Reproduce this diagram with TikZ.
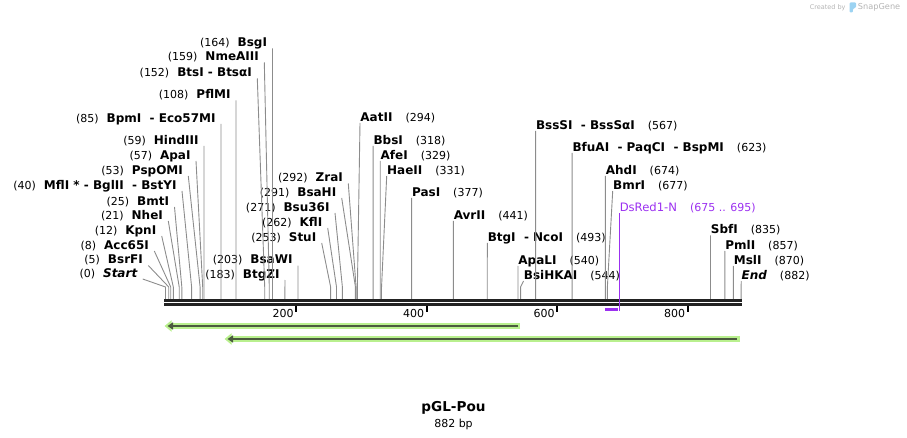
\documentclass[tikz,border=0pt]{standalone}
\usepackage{fontspec}
\setmainfont{DejaVu Sans}[ItalicFont={DejaVu Sans Oblique},BoldItalicFont={DejaVu Sans Bold Oblique}]
\usetikzlibrary{positioning}
\usetikzlibrary{arrows.meta}

\definecolor{cutgray}{HTML}{8C8C8C}
\definecolor{primerpurple}{HTML}{9B30F0}
\definecolor{glowgreen}{HTML}{B9F08E}
\definecolor{coregreen}{HTML}{4B5A3E}
\definecolor{backbone}{HTML}{222222}
\definecolor{markgray}{HTML}{B4B4B4}
\definecolor{logoblue}{HTML}{9CD3F2}

\newcommand{\lft}[2]{(#1)\hspace{8pt}{\fontsize{12}{14}\selectfont\bfseries #2}}
\newcommand{\rgt}[2]{{\fontsize{12}{14}\selectfont\bfseries #1}\hspace{13pt}(#2)}

\begin{document}
\begin{tikzpicture}[x=1pt,y=-1pt,line width=0.9pt,
  cutl/.style={anchor=south east,inner xsep=5pt,inner ysep=0.5pt,text height=8.5pt,text depth=1pt,font=\fontsize{11}{13}\selectfont},
  cutr/.style={cutl,anchor=south west,inner xsep=0pt},
  cut/.style={draw=cutgray,line width=0.9pt},
  backbone/.style={draw=backbone,line width=2.6pt},
  tickmark/.style={draw=black,line width=2pt},
  ticklabel/.style={anchor=east,inner sep=0pt,font=\fontsize{11}{13}\selectfont},
  glow/.style={draw=glowgreen,line width=6pt,-{Triangle[width=11pt,length=7pt]}},
  core/.style={draw=coregreen,line width=2.6pt,-{Triangle[width=7pt,length=5.5pt]}}]
  \useasboundingbox (0,0) rectangle (907,438);

  % watermark
  \node (made) [anchor=east,inner sep=0pt,text=markgray,font=\fontsize{6.5}{8}\selectfont] at (846,7.5) {Created by};
  \fill[logoblue,rounded corners=1pt] (849.5,2.5) -- (856,2.5) -- (856,7.5) -- (852.8,9) -- (852.8,12.5) -- (849.5,12.5) -- cycle;
  \node (brand) [anchor=west,inner sep=0pt,text=markgray,font=\fontsize{8.2}{10}\selectfont] at (857.5,7.5) {SnapGene};

  % sites on the sequence
  \foreach \n/\b in {Start/0,BsrFI/5,Acc65I/8,KpnI/12,NheI/21,BmtI/25,MflI/40,PspOMI/53,ApaI/57,HindIII/59,
      BpmI/85,PflMI/108,BtsI/152,NmeAIII/159,BsgI/164,BtgZI/183,BsaWI/203,StuI/253,KflI/262,Bsu36I/271,
      BsaHI/291,ZraI/292,AatII/294,BbsI/318,AfeI/329,HaeII/331,PasI/377,AvrII/441,BtgI/493,ApaLI/540,
      BsiHKAI/544,BssSI/567,BfuAI/623,AhdI/674,BmrI/677,SbfI/835,PmlI/857,MslI/870,End/882}
    \coordinate (s\n) at ({165.5+0.6527*\b},299);
  \coordinate (knee) at (0,287);

  % labels left of their cut
  \node (lBsgI)    [cutl] at (272.5,48.5) {\lft{164}{BsgI}};
  \node (lNmeAIII) [cutl] at (264.3,62.5) {\lft{159}{NmeAIII}};
  \node (lBtsI)    [cutl] at (257.3,78.5) {\lft{152}{BtsI - BtsαI}};
  \node (lPflMI)   [cutl] at (236,100.5)  {\lft{108}{PflMI}};
  \node (lBpmI)    [cutl] at (221,124)    {\lft{85}{BpmI~ - Eco57MI}};
  \node (lHindIII) [cutl] at (204,146)    {\lft{59}{HindIII}};
  \node (lApaI)    [cutl] at (196,161)    {\lft{57}{ApaI}};
  \node (lPspOMI)  [cutl] at (188.3,176)  {\lft{53}{PspOMI}};
  \node (lMflI)    [cutl] at (182,191)    {\lft{40}{MflI * - BglII~ - BstYI}};
  \node (lBmtI)    [cutl] at (174.5,207)  {\lft{25}{BmtI}};
  \node (lNheI)    [cutl] at (168.3,221)  {\lft{21}{NheI}};
  \node (lKpnI)    [cutl] at (161.7,236)  {\lft{12}{KpnI}};
  \node (lAcc65I)  [cutl] at (154.3,251)  {\lft{8}{Acc65I}};
  \node (lBsrFI)   [cutl] at (148.3,265.5) {\lft{5}{BsrFI}};
  \node (lStart)   [cutl] at (142.7,279)  {\lft{0}{\itshape Start}};
  \node (lBtgZI)   [cutl] at (285,280)    {\lft{183}{BtgZI}};
  \node (lBsaWI)   [cutl] at (298,265.7)  {\lft{203}{BsaWI}};
  \node (lStuI)    [cutl] at (321.7,243)  {\lft{253}{StuI}};
  \node (lKflI)    [cutl] at (327.7,228)  {\lft{262}{KflI}};
  \node (lBsu36I)  [cutl] at (335,213)    {\lft{271}{Bsu36I}};
  \node (lBsaHI)   [cutl] at (341.7,198)  {\lft{291}{BsaHI}};
  \node (lZraI)    [cutl] at (348.3,183.5) {\lft{292}{ZraI}};

  % labels right of their cut
  \node (lAatII)   [cutr] at (360,123)    {\rgt{AatII}{294}};
  \node (lBbsI)    [cutr] at (373.1,146)  {\rgt{BbsI}{318}};
  \node (lAfeI)    [cutr] at (380.2,161)  {\rgt{AfeI}{329}};
  \node (lHaeII)   [cutr] at (386.7,176)  {\rgt{HaeII}{331}};
  \node (lPasI)    [cutr] at (411.6,198)  {\rgt{PasI}{377}};
  \node (lAvrII)   [cutr] at (453.3,221)  {\rgt{AvrII}{441}};
  \node (lBtgI)    [cutr] at (487.3,243)  {\rgt{BtgI~ - NcoI}{493}};
  \node (lApaLI)   [cutr] at (518,266)    {\rgt{ApaLI}{540}};
  \node (lBsiHKAI) [cutr] at (523.5,281)  {\rgt{BsiHKAI}{544}};
  \node (lBssSI)   [cutr] at (535.6,131)  {\rgt{BssSI~ - BssSαI}{567}};
  \node (lBfuAI)   [cutr] at (572.1,153)  {\rgt{BfuAI~ - PaqCI~ - BspMI}{623}};
  \node (lAhdI)    [cutr] at (605.4,176)  {\rgt{AhdI}{674}};
  \node (lBmrI)    [cutr] at (612.7,191)  {\rgt{BmrI}{677}};
  \node (lSbfI)    [cutr] at (710.5,235.5) {\rgt{SbfI}{835}};
  \node (lPmlI)    [cutr] at (724.9,251)  {\rgt{PmlI}{857}};
  \node (lMslI)    [cutr] at (733.4,266)  {\rgt{MslI}{870}};
  \node (lEnd)     [cutr] at (741.2,281)  {\rgt{\itshape End}{882}};

  \foreach \n in {BsgI,NmeAIII,BtsI,PflMI,BpmI,HindIII,ApaI,PspOMI,MflI,BmtI,NheI,KpnI,Acc65I,BsrFI,Start,
      BtgZI,BsaWI,StuI,KflI,Bsu36I,BsaHI,ZraI}
    \draw[cut] (l\n.south east) -- (s\n |- knee) -- (s\n);
  \foreach \n in {AatII,BbsI,AfeI,HaeII,PasI,AvrII,BtgI,ApaLI,BsiHKAI,BssSI,BfuAI,AhdI,BmrI,SbfI,PmlI,MslI,End}
    \draw[cut] (l\n.south west) -- (s\n |- knee) -- (s\n);

  % primer
  \node (lDsRed) [cutr,text=primerpurple,font=\fontsize{11}{13}\selectfont] at (619.3,213.5)
    {{\fontsize{11.6}{13}\selectfont DsRed1-N}\hspace{13pt}(675 .. 695)};
  \coordinate (pDsRed) at (619.3,310.5);

  % sequence
  \draw[backbone] (164,300.4) -- (742,300.4);
  \draw[backbone] (164,304.6) -- (742,304.6);
  \foreach \t in {200,400,600,800} {
    \draw[tickmark] ({165.5+0.6527*\t},305.5) -- ++(0,6.5);
    \node (tk\t) [ticklabel] at ({163.5+0.6527*\t},313.5) {\t};
  }
  \draw[draw=primerpurple,line width=1.2pt] (lDsRed.south west) -- (pDsRed);
  \draw[draw=primerpurple,line width=3pt] (605,309) -- (618,309);

  % features
  \draw[glow] (520,326) -- (164.5,326);
  \draw[core] (518,326) -- (167.5,326);
  \draw[glow] (739.5,339) -- (224.5,339);
  \draw[core] (737,339) -- (227.5,339);

  % title
  \node (title) [font=\fontsize{13.6}{16}\selectfont\bfseries,inner sep=0pt] at (453.5,408) {pGL-Pou};
  \node (size)  [below=4pt of title,font=\fontsize{11}{13}\selectfont,inner sep=0pt] {882 bp};
\end{tikzpicture}
\end{document}
